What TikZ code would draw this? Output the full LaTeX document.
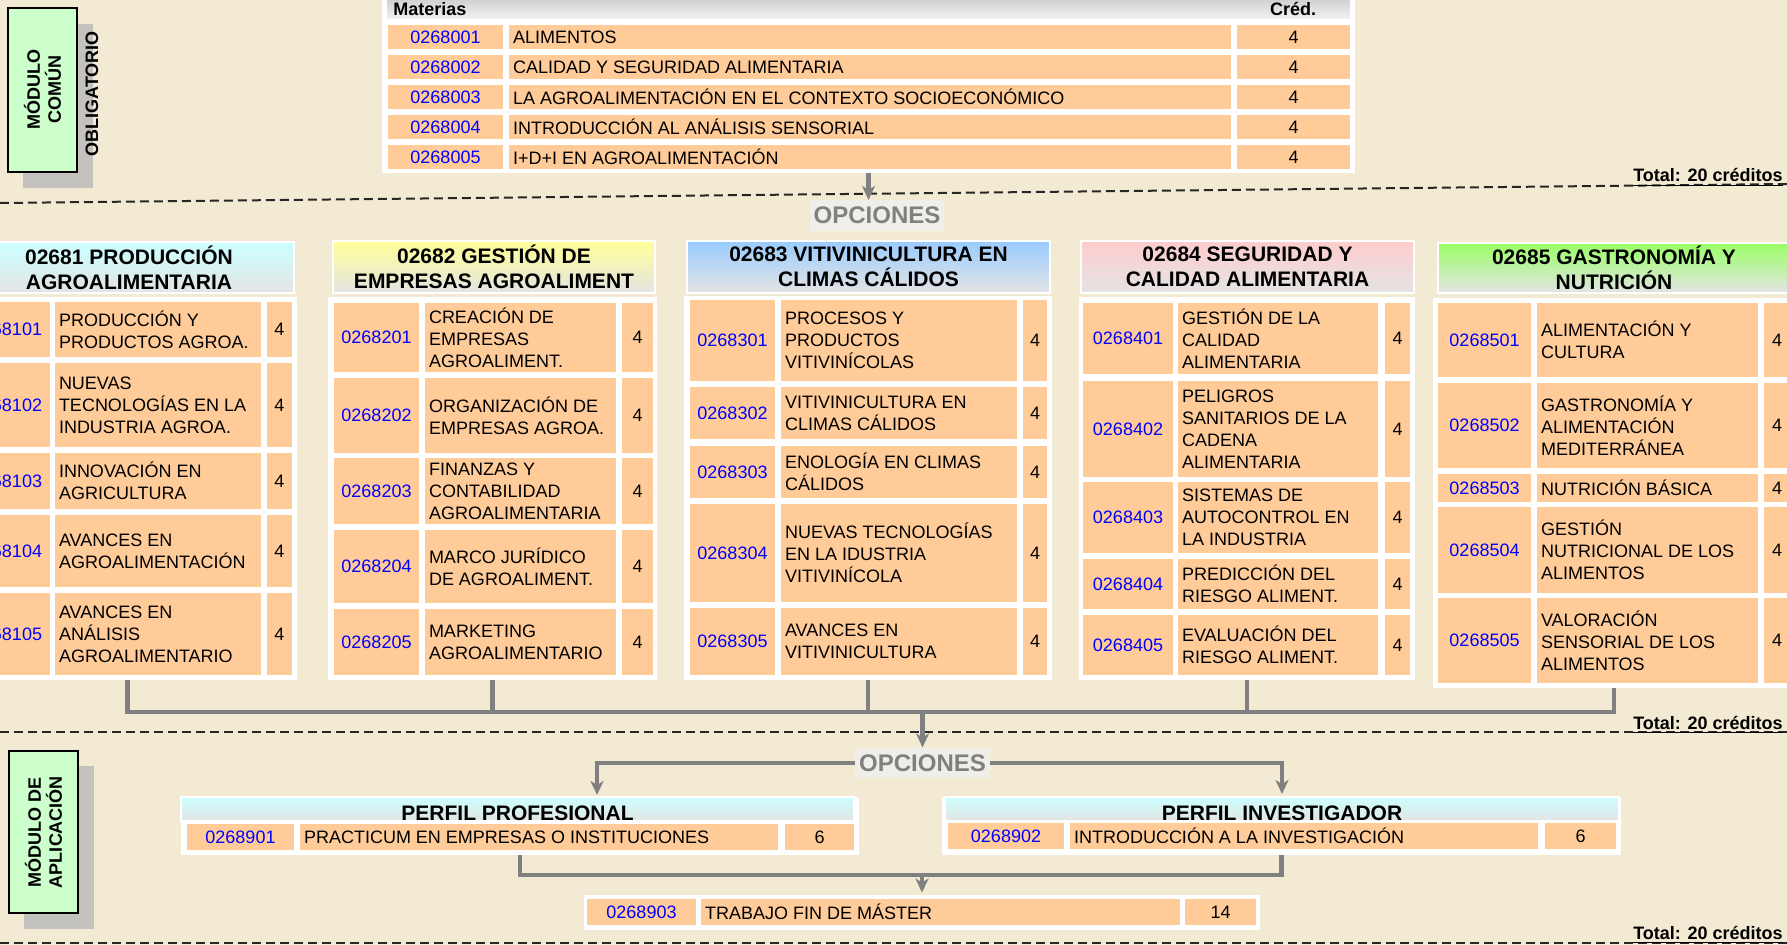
\documentclass[tikz,border=0pt]{standalone}
\usepackage{fontspec}
\setmainfont{Liberation Sans}
\usetikzlibrary{arrows.meta,calc}
\definecolor{bg}{RGB}{243,234,212}
\definecolor{peach}{RGB}{255,204,153}
\definecolor{codeblue}{RGB}{0,0,255}
\definecolor{conncol}{RGB}{128,128,128}
\definecolor{hdgray}{RGB}{228,228,228}
\definecolor{hcyan}{RGB}{204,255,255}
\definecolor{hyellow}{RGB}{255,255,153}
\definecolor{hblue}{RGB}{153,204,255}
\definecolor{hpink}{RGB}{255,204,204}
\definecolor{hgreen}{RGB}{153,255,102}
\definecolor{modgreen}{RGB}{204,255,204}
\definecolor{shadowgray}{RGB}{196,194,190}
\definecolor{opcbox}{RGB}{240,238,232}
\definecolor{opctext}{RGB}{128,128,128}
\definecolor{thtop}{RGB}{200,200,200}
\definecolor{thbot}{RGB}{242,242,242}
\newcommand\bodyfont{\fontsize{9}{11}\selectfont}
\newcommand\hdrfont{\fontsize{10.5}{12.5}\selectfont\bfseries}
\newcommand\modfont{\fontsize{9}{10.5}\selectfont\bfseries}
\newcommand\mkrect[6]{%
  \pgfmathsetmacro\rectw{((#4)-(#2))*0.5}%
  \pgfmathsetmacro\recth{((#5)-(#3))*0.5}%
  \node[#6, minimum width=\rectw pt, minimum height=\recth pt] (#1) at ({((#2)+(#4))/2},{((#3)+(#5))/2}) {};}
\newcommand\mkcell[7]{%
  \pgfmathsetmacro\rectw{((#4)-(#2))*0.5}%
  \pgfmathsetmacro\recth{((#5)-(#3))*0.5}%
  \node[#6, minimum width=\rectw pt, minimum height=\recth pt] (#1) at ({((#2)+(#4))/2},{((#3)+(#5))/2}) {#7};}
\newcommand\setcols[6]{\def\cxA{#1}\def\cxB{#2}\def\nxA{#3}\def\nxB{#4}\def\rxA{#5}\def\rxB{#6}}
\newcommand\mkrow[6]{%
  \mkcell{#1c}{\cxA}{#2}{\cxB}{#3}{codecell}{#4}%
  \mkcell{#1n}{\nxA}{#2}{\nxB}{#3}{namecell}{}%
  \node[nametext] (#1t) at ([xshift=2pt]#1n.west) {#5};%
  \mkcell{#1r}{\rxA}{#2}{\rxB}{#3}{credcell}{#6}}
\tikzset{
  cellbase/.style={fill=peach, inner sep=0pt, draw=none},
  codecell/.style={cellbase, text=codeblue, font=\bodyfont, align=center},
  credcell/.style={cellbase, font=\bodyfont, align=center},
  namecell/.style={cellbase},
  nametext/.style={anchor=west, inner sep=0pt, align=left, font=\bodyfont},
  whiteframe/.style={fill=white, inner sep=0pt, draw=none},
  thead/.style={inner sep=0pt, draw=none, top color=thtop, bottom color=thbot},
  hdr/.style={inner sep=0pt, draw=white, line width=1pt, font=\hdrfont, align=center, top color=#1, bottom color=hdgray},
  hdrplain/.style={inner sep=0pt, draw=white, line width=1pt, top color=#1, bottom color=hdgray},
  conn/.style={draw=conncol, line width=2.4pt},
  arr/.style={conn, -{Stealth[length=7pt,width=6.5pt,inset=2pt]}},
  dashline/.style={draw=black!85, line width=1pt, dash pattern=on 4.5pt off 2.5pt},
  opcnode/.style={fill=opcbox, text=opctext, font=\fontsize{12}{14}\selectfont\bfseries, inner xsep=2pt, minimum height=14.5pt},
  totaltext/.style={font=\bodyfont\bfseries, inner sep=0pt},
  modbox/.style={fill=modgreen, draw=black, line width=0.8pt, inner sep=0pt},
  shadowbox/.style={fill=shadowgray, draw=none, inner sep=0pt},
  modtext/.style={rotate=90, font=\modfont, align=center, inner sep=0pt}
}
\begin{document}
\begin{tikzpicture}[x=0.5pt,y=-0.5pt]
\useasboundingbox (0,0) rectangle (1787,945);
\clip (0,0) rectangle (1787,945);
\fill[bg] (0,0) rectangle (1787,945);

% ---------- module boxes ----------
\mkrect{m1s}{23}{24}{93}{188}{shadowbox}
\mkrect{m1}{8}{8}{77}{172}{modbox}
\node[modtext] (m1t) at (m1) {MÓDULO\\COMÚN};
\node[modtext] (m1o) at (92,94) {OBLIGATORIO};
\mkrect{m2s}{24}{766}{94}{929}{shadowbox}
\mkrect{m2}{9}{751}{78}{913}{modbox}
\node[modtext] (m2t) at (m2) {MÓDULO DE\\APLICACIÓN};

% ---------- top table ----------
\mkrect{tf}{382}{-6}{1355}{173}{whiteframe}
\mkrect{th}{387}{-6}{1350}{19}{thead}
\node[anchor=base west, font=\bodyfont\bfseries, inner sep=0pt] (tmat) at (393,16) {Materias};
\node[anchor=base, font=\bodyfont\bfseries, inner sep=0pt] (tcred) at (1293,16) {Créd.};
\setcols{388}{503}{509}{1231}{1237}{1350}
\mkrow{t1}{25}{49.5}{0268001}{ALIMENTOS}{4}
\mkrow{t2}{55}{79.5}{0268002}{CALIDAD Y SEGURIDAD ALIMENTARIA}{4}
\mkrow{t3}{85}{109.5}{0268003}{LA AGROALIMENTACIÓN EN EL CONTEXTO SOCIOECONÓMICO}{4}
\mkrow{t4}{115}{139.5}{0268004}{INTRODUCCIÓN AL ANÁLISIS SENSORIAL}{4}
\mkrow{t5}{145}{169.5}{0268005}{I+D+I EN AGROALIMENTACIÓN}{4}

% ---------- divider 1 ----------
\draw[dashline] (0,203) -- (1787,184);
\node[totaltext, anchor=base east] (tot1) at (1783,182) {\underline{Total: 20 créditos}};
\node[opcnode] (opc1) at (877,215.5) {OPCIONES};
\draw[arr] (tf.south) -- (tf.south |- opc1.north);

% ---------- column 1 ----------
\mkrect{f1}{-42}{297}{297}{680}{whiteframe}
\mkcell{h1}{-36}{242}{294}{293}{hdr=hcyan}{02681 PRODUCCIÓN\\AGROALIMENTARIA}
\setcols{-36}{50}{55}{261}{267}{292}
\mkrow{a1}{302}{357}{0268101}{PRODUCCIÓN Y\\PRODUCTOS AGROA.}{4}
\mkrow{a2}{363}{447}{0268102}{NUEVAS\\TECNOLOGÍAS EN LA\\INDUSTRIA AGROA.}{4}
\mkrow{a3}{453}{509}{0268103}{INNOVACIÓN EN\\AGRICULTURA}{4}
\mkrow{a4}{515}{587}{0268104}{AVANCES EN\\AGROALIMENTACIÓN}{4}
\mkrow{a5}{593}{675}{0268105}{AVANCES EN\\ANÁLISIS\\AGROALIMENTARIO}{4}

% ---------- column 2 ----------
\mkrect{f2}{328}{297}{657}{680}{whiteframe}
\mkcell{h2}{333}{241}{655}{293}{hdr=hyellow}{02682 GESTIÓN DE\\EMPRESAS AGROALIMENT}
\setcols{334}{419}{425}{616}{622}{653}
\mkrow{b1}{303}{372}{0268201}{CREACIÓN DE\\EMPRESAS\\AGROALIMENT.}{4}
\mkrow{b2}{378}{453}{0268202}{ORGANIZACIÓN DE\\EMPRESAS AGROA.}{4}
\mkrow{b3}{458}{524}{0268203}{FINANZAS Y\\CONTABILIDAD\\AGROALIMENTARIA}{4}
\mkrow{b4}{530}{603}{0268204}{MARCO JURÍDICO\\DE AGROALIMENT.}{4}
\mkrow{b5}{609}{675}{0268205}{MARKETING\\AGROALIMENTARIO}{4}

% ---------- column 3 ----------
\mkrect{f3}{684}{296}{1052}{680}{whiteframe}
\mkcell{h3}{687}{241}{1050}{293}{hdr=hblue}{02683 VITIVINICULTURA EN\\CLIMAS CÁLIDOS}
\setcols{690}{775}{781}{1017}{1023}{1047}
\mkrow{c1}{300}{381}{0268301}{PROCESOS Y\\PRODUCTOS\\VITIVINÍCOLAS}{4}
\mkrow{c2}{387}{439}{0268302}{VITIVINICULTURA EN\\CLIMAS CÁLIDOS}{4}
\mkrow{c3}{446}{498}{0268303}{ENOLOGÍA EN CLIMAS\\CÁLIDOS}{4}
\mkrow{c4}{504}{602}{0268304}{NUEVAS TECNOLOGÍAS\\EN LA IDUSTRIA\\VITIVINÍCOLA}{4}
\mkrow{c5}{608}{675}{0268305}{AVANCES EN\\VITIVINICULTURA}{4}

% ---------- column 4 ----------
\mkrect{f4}{1079}{297}{1415}{680}{whiteframe}
\mkcell{h4}{1081}{241}{1414}{293}{hdr=hpink}{02684 SEGURIDAD Y\\CALIDAD ALIMENTARIA}
\setcols{1083}{1173}{1178}{1378}{1385}{1410}
\mkrow{d1}{303}{374}{0268401}{GESTIÓN DE LA\\CALIDAD\\ALIMENTARIA}{4}
\mkrow{d2}{381}{477}{0268402}{PELIGROS\\SANITARIOS DE LA\\CADENA\\ALIMENTARIA}{4}
\mkrow{d3}{482}{553}{0268403}{SISTEMAS DE\\AUTOCONTROL EN\\LA INDUSTRIA}{4}
\mkrow{d4}{559}{609}{0268404}{PREDICCIÓN DEL\\RIESGO ALIMENT.}{4}
\mkrow{d5}{615}{675}{0268405}{EVALUACIÓN DEL\\RIESGO ALIMENT.}{4}

% ---------- column 5 ----------
\mkrect{f5}{1433}{298}{1795}{688}{whiteframe}
\mkcell{h5}{1438}{243}{1790}{293}{hdr=hgreen}{02685 GASTRONOMÍA Y\\NUTRICIÓN}
\setcols{1438}{1531}{1537}{1758}{1764}{1790}
\mkrow{e1}{303}{377}{0268501}{ALIMENTACIÓN Y\\CULTURA}{4}
\mkrow{e2}{383}{468}{0268502}{GASTRONOMÍA Y\\ALIMENTACIÓN\\MEDITERRÁNEA}{4}
\mkrow{e3}{474}{502}{0268503}{NUTRICIÓN BÁSICA}{4}
\mkrow{e4}{507}{593}{0268504}{GESTIÓN\\NUTRICIONAL DE LOS\\ALIMENTOS}{4}
\mkrow{e5}{598}{683}{0268505}{VALORACIÓN\\SENSORIAL DE LOS\\ALIMENTOS}{4}

% ---------- bus to options ----------
\coordinate (bus) at (870,712);
\draw[conn] (f1.south) -- (f1.south |- bus);
\draw[conn] (f2.south) -- (f2.south |- bus);
\draw[conn] (f3.south) -- (f3.south |- bus);
\draw[conn] (f4.south) -- (f4.south |- bus);
\draw[conn] (f5.south) -- (f5.south |- bus);
\draw[conn, line cap=rect] (f1.south |- bus) -- (f5.south |- bus);

% ---------- divider 2 ----------
\draw[dashline] (0,732) -- (1787,732);
\node[totaltext, anchor=base east] (tot2) at (1783,729) {\underline{Total: 20 créditos}};
\node[opcnode] (opc2) at (922.5,763) {OPCIONES};
\draw[arr] (opc2.north |- bus) -- (opc2.north);

% ---------- perfiles ----------
\mkrect{ppf}{181}{797}{859}{855}{whiteframe}
\mkrect{pph}{181}{797}{854}{821}{hdrplain=hcyan}
\node[anchor=base, font=\hdrfont, inner sep=0pt] (ppt) at ([yshift=0.6pt]pph.south) {PERFIL PROFESIONAL};
\setcols{187}{294}{300}{778}{785}{854}
\mkrow{p1}{824}{850}{0268901}{PRACTICUM EN EMPRESAS O INSTITUCIONES}{6}

\mkrect{pif}{942}{797}{1621}{855}{whiteframe}
\mkrect{pih}{945}{797}{1619}{821}{hdrplain=hcyan}
\node[anchor=base, font=\hdrfont, inner sep=0pt] (pit) at ([yshift=0.6pt]pih.south) {PERFIL INVESTIGADOR};
\setcols{948}{1064}{1070}{1538}{1545}{1616}
\mkrow{q1}{823}{849}{0268902}{INTRODUCCIÓN A LA INVESTIGACIÓN}{6}

\coordinate (ppin) at (597,797);
\draw[arr] (opc2.west) -| ([yshift=1pt]ppin);
\draw[arr] (opc2.east) -| ([yshift=1pt]pih.north);

% ---------- TFM ----------
\mkrect{tfm}{584}{895}{1260}{930}{whiteframe}
\setcols{587}{696}{701}{1180}{1185}{1256}
\mkrow{r1}{899}{925}{0268903}{TRABAJO FIN DE MÁSTER}{14}
\coordinate (jn) at (922,875);
\draw[conn] (ppf.south) |- (jn);
\draw[conn] (pif.south) |- (jn);
\draw[arr] (jn) -- ([yshift=1pt]tfm.north);

% ---------- divider 3 ----------
\draw[dashline] (0,943) -- (1787,943);
\node[totaltext, anchor=base east] (tot3) at (1783,939) {\underline{Total: 20 créditos}};
\end{tikzpicture}
\end{document}
